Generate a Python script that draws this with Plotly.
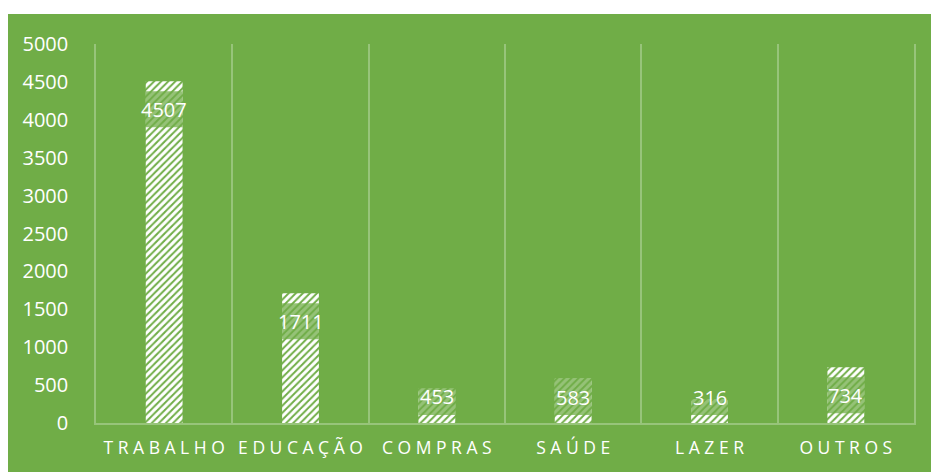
import plotly.graph_objects as go

# Trip purposes and counts
categories = ["TRABALHO", "EDUCAÇÃO", "COMPRAS", "SAÚDE", "LAZER", "OUTROS"]
values = [4507, 1711, 453, 583, 316, 734]
y_ticks = [0, 500, 1000, 1500, 2000, 2500, 3000, 3500, 4000, 4500, 5000]

GREEN = "#70AD47"
GRID = "rgba(255,255,255,0.28)"
FONT = "Open Sans"

W, H = 931, 472
M_L, M_R, M_T, M_B = 96, 17, 44, 49
plot_w = W - M_L - M_R
plot_h = H - M_T - M_B
y_max = 5000
px_per_unit = plot_h / y_max
BAR_W = 0.27

fig = go.Figure()

fig.add_trace(go.Bar(
    x=categories,
    y=values,
    width=BAR_W,
    marker=dict(
        color="white",
        line=dict(width=0),
        pattern=dict(shape="/", fgcolor="white", bgcolor=GREEN,
                     fillmode="replace", size=5, solidity=0.6),
    ),
    hoverinfo="x+y",
))

# Value labels near the top of each bar, kept inside the bar for short ones;
# each sits on a translucent green box as wide as the bar
annotations = []
shapes = [dict(
    type="rect", xref="paper", yref="paper", layer="below",
    x0=(8 - M_L) / plot_w, x1=(W + 2 - M_L) / plot_w,
    y0=-(M_B + 2) / plot_h, y1=(plot_h + M_T - 14) / plot_h,
    fillcolor=GREEN, line=dict(width=0),
)]
for i, (cat, v) in enumerate(zip(categories, values)):
    shift = -min(28, v * px_per_unit - 26)
    centre = v + shift / px_per_unit
    half = 18 / px_per_unit
    shapes.append(dict(
        type="rect", xref="x", yref="y", layer="above",
        x0=i - BAR_W / 2, x1=i + BAR_W / 2,
        y0=max(centre - half, 0), y1=min(centre + half, v),
        fillcolor="rgba(112,173,71,0.74)", line=dict(width=0),
    ))
    annotations.append(dict(
        x=cat, y=v, xref="x", yref="y",
        text=str(v), showarrow=False,
        yanchor="middle", yshift=shift,
        font=dict(family=FONT, size=20, color="white"),
    ))

fig.update_layout(
    width=W, height=H,
    margin=dict(l=M_L, r=M_R, t=M_T, b=M_B, pad=0),
    paper_bgcolor="white",
    plot_bgcolor=GREEN,
    showlegend=False,
    annotations=annotations,
    shapes=shapes,
    font=dict(family=FONT, color="white"),
)

fig.update_xaxes(
    tickmode="array",
    tickvals=categories,
    ticktext=[" ".join(c) for c in categories],
    tickson="boundaries",
    showgrid=True, gridcolor=GRID, gridwidth=1.5,
    showline=True, linecolor=GRID, linewidth=1.5,
    ticks="", ticklabelstandoff=8,
    tickfont=dict(family=FONT, size=17.5, color="white"),
)

fig.update_yaxes(
    range=[0, y_max],
    tickmode="array",
    tickvals=y_ticks,
    ticktext=[str(t) for t in y_ticks],
    showgrid=False, zeroline=False,
    showline=True, mirror=True, linecolor=GRID, linewidth=1.5,
    ticks="", ticklabelstandoff=22,
    tickfont=dict(family=FONT, size=20, color="white"),
)

fig.write_html("out.html")
